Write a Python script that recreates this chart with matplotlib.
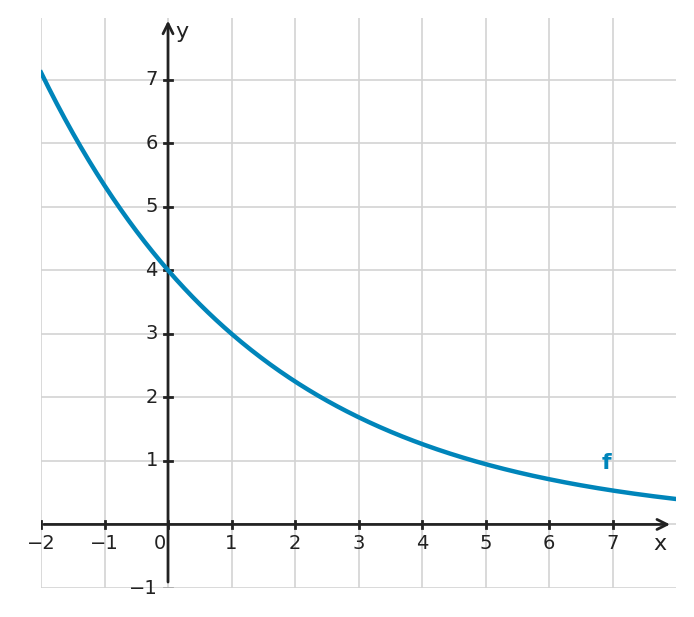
import numpy as np
import matplotlib.pyplot as plt

# exponential f(x) = a * b**x: f(0)=4, f(-2)~7.1
a_val = 4.0
b_val = 0.75
x_ticks = [-2, -1, 0, 1, 2, 3, 4, 5, 6, 7]
y_ticks = [-1, 1, 2, 3, 4, 5, 6, 7]

fig = plt.figure(figsize=(6.94, 6.17), dpi=100)
ax = fig.add_axes([0.0591, 0.047, 0.915, 0.924])
xmin, xmax, ymin, ymax = -2, 8.0, -1, 7.97
ax.set_xlim(xmin, xmax)
ax.set_ylim(ymin, ymax)
for s in ax.spines.values():
    s.set_visible(False)
ax.set_xticks([])
ax.set_yticks([])

for gx in range(-2, 8):
    ax.axvline(gx, color="#d3d3d3", lw=1.2, zorder=0)
for gy in range(-1, 8):
    ax.axhline(gy, color="#d3d3d3", lw=1.2, zorder=0)

axis_col = "#222222"
ax.annotate("", xy=(xmax - 0.05, 0), xytext=(xmin, 0),
            arrowprops=dict(arrowstyle="->", color=axis_col, lw=2, mutation_scale=18))
ax.annotate("", xy=(0, ymax), xytext=(0, ymin + 0.05),
            arrowprops=dict(arrowstyle="->", color=axis_col, lw=2, mutation_scale=18))

for t in x_ticks:
    ax.plot([t, t], [-0.06, 0.06], color=axis_col, lw=2)
    ax.text(t - (0.13 if t == 0 else 0), -0.3, f"{t}".replace("-", "\u2212"),
            ha="center", va="center", fontsize=14, color=axis_col)
for t in y_ticks:
    ax.plot([-0.06, 0.06], [t, t], color=axis_col if t > 0 else "#aaaaaa", lw=2)
    ax.text(-0.16, t, f"{t}".replace("-", "\u2212"), ha="right", va="center",
            fontsize=14, color=axis_col)

ax.text(7.75, -0.3, "x", fontsize=16, color=axis_col, ha="center", va="center")
ax.text(0.22, 7.75, "y", fontsize=16, color=axis_col, ha="center", va="center")

xs = np.linspace(xmin, xmax, 400)
ax.plot(xs, a_val * b_val ** xs, color="#0085ba", lw=3.2, zorder=5)
ax.text(6.9, 0.97, "f", color="#0085ba", fontsize=16, fontweight="bold",
        ha="center", va="center")

fig.savefig("out.png", dpi=100)
